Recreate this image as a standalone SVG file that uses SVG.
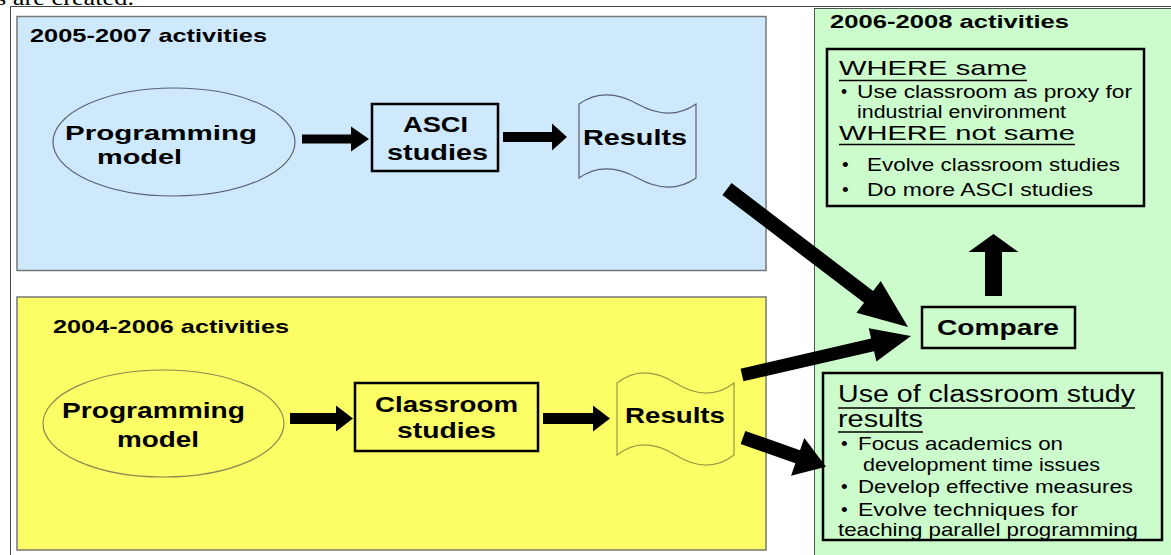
<svg xmlns="http://www.w3.org/2000/svg" width="1171" height="555" viewBox="0 0 1171 555">
<style>
.b{font-family:"Liberation Sans",Arial,sans-serif;font-weight:bold;fill:#000}
.r{font-family:"Liberation Sans",Arial,sans-serif;fill:#000}
.panel{stroke:#777;stroke-width:1.5}
.box{fill:none;stroke:#000;stroke-width:2.5}
.ul{stroke:#000;stroke-width:1.3}
.arr{fill:#000}
</style>
<rect x="0" y="0" width="1171" height="555" fill="#fff"/>
<text x="-4" y="5" font-family="'Liberation Serif',serif" font-size="22" textLength="138" lengthAdjust="spacingAndGlyphs" fill="#000">s are created.</text>
<path d="M10.5,555 V6.5 H1171" fill="none" stroke="#444" stroke-width="1"/>

<g id="panel-2005-2007">
<rect class="panel" x="17" y="16.5" width="749" height="254" fill="#cde9fb"/>
<text class="b" x="30" y="42" font-size="19" textLength="237" lengthAdjust="spacingAndGlyphs">2005-2007 activities</text>
</g>
<g id="panel-2004-2006">
<rect class="panel" x="17" y="297" width="749" height="253" fill="#fdfd66"/>
<text class="b" x="53" y="333" font-size="19" textLength="236" lengthAdjust="spacingAndGlyphs">2004-2006 activities</text>
</g>
<g id="panel-2006-2008">
<rect x="814.5" y="8.5" width="370" height="560" fill="#ccfccc" stroke="#555" stroke-width="1"/>
<text class="b" x="830" y="28" font-size="19" textLength="239" lengthAdjust="spacingAndGlyphs">2006-2008 activities</text>
</g>

<g id="node-blue-model">
<ellipse cx="174" cy="142" rx="121" ry="54" fill="#cde9fb" stroke="#5a6270" stroke-width="1.2"/>
<text class="b" x="65" y="140" font-size="21" textLength="192" lengthAdjust="spacingAndGlyphs">Programming</text>
<text class="b" x="97" y="164" font-size="21" textLength="85" lengthAdjust="spacingAndGlyphs">model</text>
</g>
<g id="node-asci">
<rect class="box" x="372" y="104" width="126" height="67" stroke-width="2"/>
<text class="b" x="403" y="132" font-size="22" textLength="65" lengthAdjust="spacingAndGlyphs">ASCI</text>
<text class="b" x="387" y="160" font-size="22" textLength="101" lengthAdjust="spacingAndGlyphs">studies</text>
</g>
<g id="node-blue-results">
<path d="M579,104 C596,92 616,92 637.5,104 C659,116 679,116 696,104 L696,178 C679,190 659,190 637.5,178 C616,166 596,166 579,178 Z" fill="#cde9fb" stroke="#5a6270" stroke-width="1.2"/>
<text class="b" x="583" y="145" font-size="22" textLength="104" lengthAdjust="spacingAndGlyphs">Results</text>
</g>

<g id="node-yellow-model">
<ellipse cx="163.5" cy="423.5" rx="120.5" ry="53.5" fill="#fdfd66" stroke="#8a8a50" stroke-width="1.2"/>
<text class="b" x="62" y="418.3" font-size="22" textLength="183" lengthAdjust="spacingAndGlyphs">Programming</text>
<text class="b" x="117" y="446.7" font-size="22" textLength="82" lengthAdjust="spacingAndGlyphs">model</text>
</g>
<g id="node-classroom">
<rect class="box" x="355" y="383" width="183" height="68" stroke-width="2"/>
<text class="b" x="375" y="412" font-size="22" textLength="143" lengthAdjust="spacingAndGlyphs">Classroom</text>
<text class="b" x="397" y="438" font-size="22" textLength="99" lengthAdjust="spacingAndGlyphs">studies</text>
</g>
<g id="node-yellow-results">
<path d="M617,383 C634,369.7 654,369.7 675.5,383 C697,396.3 717,396.3 734,383 L734,455 C717,468.3 697,468.3 675.5,455 C654,441.7 634,441.7 617,455 Z" fill="#fdfd66" stroke="#999940" stroke-width="1.2"/>
<text class="b" x="625" y="423" font-size="22" textLength="100" lengthAdjust="spacingAndGlyphs">Results</text>
</g>

<g id="node-where">
<rect class="box" x="827" y="49" width="317" height="157"/>
<text class="r" x="839" y="75.3" font-size="21" textLength="188" lengthAdjust="spacingAndGlyphs">WHERE same</text>
<line class="ul" x1="839" y1="80.5" x2="1027" y2="80.5"/>
<text class="r" x="841" y="98" font-size="17.5">•</text>
<text class="r" x="857" y="98" font-size="17.5" textLength="275" lengthAdjust="spacingAndGlyphs">Use classroom as proxy for</text>
<text class="r" x="857" y="117.5" font-size="17.5" textLength="209" lengthAdjust="spacingAndGlyphs">industrial environment</text>
<text class="r" x="839" y="139.5" font-size="21" textLength="236" lengthAdjust="spacingAndGlyphs">WHERE not same</text>
<line class="ul" x1="839" y1="144.5" x2="1075" y2="144.5"/>
<text class="r" x="842" y="170.5" font-size="19">•</text>
<text class="r" x="867" y="170.5" font-size="19" textLength="253" lengthAdjust="spacingAndGlyphs">Evolve classroom studies</text>
<text class="r" x="842" y="195.5" font-size="19">•</text>
<text class="r" x="867" y="195.5" font-size="19" textLength="226" lengthAdjust="spacingAndGlyphs">Do more ASCI studies</text>
</g>
<g id="node-compare">
<rect class="box" x="922" y="307" width="153" height="41"/>
<text class="b" x="937" y="335" font-size="22" textLength="122" lengthAdjust="spacingAndGlyphs">Compare</text>
</g>
<g id="node-use">
<rect class="box" x="823" y="373" width="339" height="167"/>
<text class="r" x="838" y="401.7" font-size="23" textLength="297" lengthAdjust="spacingAndGlyphs">Use of classroom study</text>
<line class="ul" x1="838" y1="408" x2="1135" y2="408"/>
<text class="r" x="838" y="427" font-size="23" textLength="85" lengthAdjust="spacingAndGlyphs">results</text>
<line class="ul" x1="838" y1="432" x2="923" y2="432"/>
<text class="r" x="841" y="450" font-size="19">•</text>
<text class="r" x="858" y="450" font-size="19" textLength="205" lengthAdjust="spacingAndGlyphs">Focus academics on</text>
<text class="r" x="863" y="470.5" font-size="19" textLength="237" lengthAdjust="spacingAndGlyphs">development time issues</text>
<text class="r" x="841" y="493.3" font-size="19">•</text>
<text class="r" x="858" y="493.3" font-size="19" textLength="275" lengthAdjust="spacingAndGlyphs">Develop effective measures</text>
<text class="r" x="841" y="515.5" font-size="19">•</text>
<text class="r" x="858" y="515.5" font-size="19" textLength="220" lengthAdjust="spacingAndGlyphs">Evolve techniques for</text>
<text class="r" x="838" y="536" font-size="19" textLength="300" lengthAdjust="spacingAndGlyphs">teaching parallel programming</text>
</g>

<g id="connectors">
<polygon class="arr" transform="translate(302,139)" points="0,-4.5 49,-4.5 49,-12.5 67,0 49,12.5 49,4.5 0,4.5"/>
<polygon class="arr" transform="translate(503,137)" points="0,-5 49,-5 49,-13.5 64,0 49,13.5 49,5 0,5"/>
<polygon class="arr" transform="translate(290,418.5)" points="0,-5.5 46,-5.5 46,-13 63,0 46,13 46,5.5 0,5.5"/>
<polygon class="arr" transform="translate(543,418.5)" points="0,-5.5 50,-5.5 50,-13 67,0 50,13 50,5.5 0,5.5"/>
<polygon class="arr" transform="translate(727,189) rotate(37.3)" points="0,-7.5 178,-7.5 178,-20 227.6,0 178,20 178,7.5 0,7.5"/>
<polygon class="arr" transform="translate(742,375) rotate(-13)" points="0,-6.5 134,-6.5 134,-17 173.4,0 134,17 134,6.5 0,6.5"/>
<polygon class="arr" transform="translate(743,437.5) rotate(19.4)" points="0,-7 58,-7 58,-20 88,0 58,20 58,7 0,7"/>
<polygon class="arr" transform="translate(993.5,296) rotate(-90)" points="0,-8.5 44,-8.5 44,-25 62,0 44,25 44,8.5 0,8.5"/>
</g>
</svg>
